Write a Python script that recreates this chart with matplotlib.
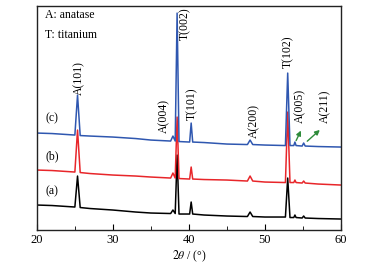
import matplotlib
matplotlib.use("Agg")
import matplotlib.pyplot as plt

# XRD patterns (2theta in deg, intensity in arbitrary units)
# (a) black
a_x = [20, 22, 24, 25.0, 25.35, 25.7, 27, 30, 33, 35, 37.6, 37.9, 38.2, 38.45, 38.7,
       40.1, 40.3, 40.5, 42, 45, 47.7, 48.05, 48.4, 50, 52.7, 53.0, 53.3, 53.8, 53.95,
       54.1, 54.9, 55.1, 55.3, 57, 60]
a_y = [25, 24.5, 23.5, 23, 54, 22.5, 21.5, 20, 18, 17, 16.5, 20, 16.5, 75, 16,
       16, 28, 16, 15, 14, 13.5, 18, 13.5, 13, 13, 52, 12.5, 12.5, 15, 12.5,
       12, 14, 12, 11.5, 11]

# (b) red
b_x = a_x
b_y = [60, 59.5, 58.5, 58, 100, 57.5, 56.5, 55, 54, 53, 52, 57, 52, 113, 51.5,
       51, 63, 51, 50.5, 50, 49, 54, 49, 48, 47.5, 118, 47.5, 47.5, 50, 47.5,
       47, 49, 47, 46, 45]

# (c) blue
c_x = a_x
c_y = [97, 96.5, 95.5, 95, 135, 94.5, 94, 93, 91.5, 90, 89, 94, 89, 217, 88.5,
       88, 107, 88, 87.5, 86, 85.5, 90, 85.5, 85, 84.5, 157, 84.5, 84.5, 88, 84.5,
       84, 87, 84, 83.5, 83]

# peak labels: text, x, y (bottom of text)
peak_labels = ["A(101)", "A(004)", "T(002)", "T(101)", "A(200)", "T(102)", "A(005)", "A(211)"]
peak_lx = [25.6, 36.8, 39.5, 40.4, 48.6, 53.0, 54.7, 57.9]
peak_ly = [135, 97, 190, 110, 92, 162, 107, 107]

plt.rcParams["font.family"] = ["Liberation Serif", "DejaVu Serif"]
plt.rcParams["mathtext.fontset"] = "stix"
fs = 8.5

fig = plt.figure(figsize=(3.65, 2.65), dpi=100)
ax = fig.add_axes([0.101, 0.132, 0.833, 0.845])

ax.plot(a_x, a_y, color="black", lw=1.1)
ax.plot(b_x, b_y, color="#e8262a", lw=1.1)
ax.plot(c_x, c_y, color="#2f57b0", lw=1.1)

for t, x, y in zip(peak_labels, peak_lx, peak_ly):
    ax.text(x, y, t, rotation=90, ha="center", va="bottom", fontsize=fs)

# green arrows for A(005) and A(211)
ax.annotate("", xy=(54.9, 102), xytext=(53.95, 87),
            arrowprops=dict(arrowstyle="-|>", color="#2e8b3a", lw=1.0, mutation_scale=7))
ax.annotate("", xy=(57.5, 102), xytext=(55.3, 87),
            arrowprops=dict(arrowstyle="-|>", color="#2e8b3a", lw=1.0, mutation_scale=7))

ax.text(22.0, 112, "(c)", ha="center", va="center", fontsize=fs)
ax.text(22.0, 74, "(b)", ha="center", va="center", fontsize=fs)
ax.text(22.0, 39, "(a)", ha="center", va="center", fontsize=fs)

ax.text(21.05, 215, "A: anatase", ha="left", va="center", fontsize=fs)
ax.text(21.05, 195, "T: titanium", ha="left", va="center", fontsize=fs)

for s in ax.spines.values():
    s.set_linewidth(1.0)
    s.set_color("#222222")

ax.set_xlim(20, 60)
ax.set_ylim(0, 224)
ax.set_xticks([20, 30, 40, 50, 60])
ax.set_xticks([25, 35, 45, 55], minor=True)
ax.tick_params(axis="x", which="both", direction="in", labelsize=fs + 0.5, pad=3)
ax.tick_params(axis="x", which="major", length=4)
ax.tick_params(axis="x", which="minor", length=3)
ax.set_yticks([])
ax.set_xlabel(r"$\mathit{2\theta}$ / (°)", fontsize=fs, labelpad=2)

fig.savefig("out.png", dpi=100)
